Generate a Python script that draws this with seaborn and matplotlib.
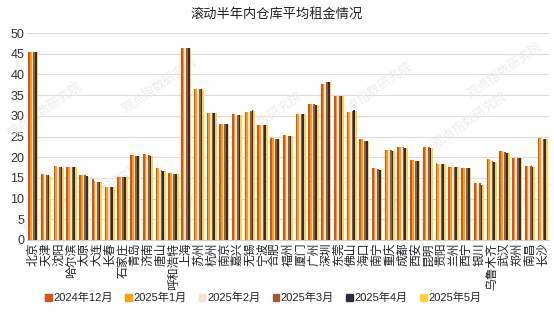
import matplotlib
matplotlib.use("Agg")
import matplotlib.pyplot as plt
import seaborn as sns
import pandas as pd

cities = ["北京", "天津", "沈阳", "哈尔滨", "太原", "大连", "长春", "石家庄", "青岛", "济南",
          "唐山", "呼和浩特", "上海", "苏州", "杭州", "南京", "嘉兴", "无锡", "宁波", "合肥",
          "福州", "厦门", "广州", "深圳", "东莞", "佛山", "海口", "南宁", "重庆", "成都",
          "西安", "昆明", "贵阳", "兰州", "西宁", "银川", "乌鲁木齐", "武汉", "郑州", "南昌", "长沙"]
months = ["2024年12月", "2025年1月", "2025年2月", "2025年3月", "2025年4月", "2025年5月"]

dec24 = [45.3, 15.9, 17.8, 17.6, 15.7, 14.7, 12.7, 15.2, 20.5, 20.7,
         17.3, 16.1, 46.4, 36.5, 30.6, 28.1, 30.5, 30.9, 27.8, 24.7,
         25.3, 30.5, 32.8, 37.7, 34.9, 30.8, 24.3, 17.5, 21.7, 22.4,
         19.3, 22.5, 18.5, 17.6, 17.4, 13.8, 19.5, 21.4, 19.7, 17.9, 24.6]
jan25 = [45.3, 15.9, 17.8, 17.6, 15.7, 14.2, 12.7, 15.1, 20.5, 20.7,
         17.3, 16.1, 46.4, 36.5, 30.6, 28.1, 30.5, 30.9, 27.8, 24.6,
         25.3, 30.5, 32.8, 37.7, 34.9, 30.8, 24.3, 17.5, 21.7, 22.4,
         19.3, 22.5, 18.4, 17.6, 17.4, 13.8, 19.5, 21.4, 19.7, 17.9, 24.6]
feb25 = [45.3, 15.8, 17.7, 17.6, 15.6, 14.1, 12.7, 15.1, 20.4, 20.8,
         17.2, 16.0, 46.4, 36.4, 30.6, 28.1, 30.3, 30.9, 27.8, 24.5,
         25.2, 30.4, 32.8, 37.8, 34.9, 30.9, 24.2, 17.4, 21.7, 22.4,
         19.3, 22.4, 18.3, 17.6, 17.4, 13.6, 19.4, 21.3, 19.7, 17.8, 24.6]
mar25 = [45.3, 15.7, 17.6, 17.6, 15.6, 14.1, 12.8, 15.1, 20.4, 20.5,
         17.0, 16.0, 46.3, 36.4, 30.6, 28.0, 30.2, 31.2, 27.8, 24.4,
         25.1, 30.4, 32.8, 38.1, 34.9, 31.2, 24.0, 17.2, 21.7, 22.4,
         19.2, 22.4, 18.3, 17.6, 17.4, 13.7, 19.2, 21.3, 19.7, 17.8, 24.5]
apr25 = [45.3, 15.6, 17.6, 17.6, 15.5, 14.1, 12.9, 15.1, 20.3, 20.4,
         16.7, 16.0, 46.3, 36.4, 30.6, 28.0, 30.2, 31.3, 27.8, 24.4,
         25.1, 30.4, 32.7, 38.2, 34.9, 31.3, 23.9, 16.9, 21.6, 22.3,
         19.2, 22.3, 18.4, 17.6, 17.4, 13.3, 18.8, 21.0, 19.7, 17.7, 24.4]
may25 = [45.3, 15.5, 17.5, 17.6, 15.3, 14.0, 12.9, 15.2, 20.3, 20.3,
         16.6, 16.0, 46.3, 36.3, 30.6, 28.0, 30.3, 31.2, 27.7, 24.4,
         25.1, 30.4, 32.7, 38.1, 34.9, 31.2, 23.9, 16.9, 21.6, 22.3,
         19.1, 22.3, 18.3, 17.6, 17.4, 13.2, 18.8, 20.9, 19.7, 17.7, 24.4]
series = [dec24, jan25, feb25, mar25, apr25, may25]
colors = ["#D9531E", "#F2A30F", "#FCE1C9", "#9C5B3A", "#2E2C40", "#FFD23F"]
yticks = [0, 5, 10, 15, 20, 25, 30, 35, 40, 45, 50]

rows = []
for m, vals in zip(months, series):
    for c, v in zip(cities, vals):
        rows.append({"city": c, "month": m, "value": v})
df = pd.DataFrame(rows)

sns.set_theme(style="white")
plt.rcParams["font.family"] = ["Liberation Sans", "Noto Sans CJK SC", "DejaVu Sans"]

fig = plt.figure(figsize=(5.54, 3.12), dpi=100)
ax = fig.add_axes([27 / 554, 72 / 312, 522 / 554, (240 - 33) / 312])

sns.barplot(data=df, x="city", y="value", hue="month", palette=colors,
            saturation=1, width=0.8, ax=ax, zorder=3, linewidth=0, legend=True)

# faint watermark (drawn beneath the bars)
wm = "观点指数研究院"
wm_pos = [(45, 110), (105, 190), (160, 85), (215, 185), (265, 120), (330, 200),
          (375, 90), (420, 190), (470, 120), (515, 205), (505, 70), (60, 205)]
for (px, py) in wm_pos:
    ax.text(px / 554, 1 - py / 312, wm, rotation=35, fontsize=9, color="#EBEBEB",
            ha="center", va="center", zorder=1, transform=fig.transFigure,
            family=["Noto Sans CJK SC", "DejaVu Sans"])

ax.set_ylim(0, 50)
ax.set_xlim(-0.5, len(cities) - 0.5)
ax.set_yticks(yticks)
ax.set_yticklabels([str(t) for t in yticks], fontsize=9, color="#333333")
ax.yaxis.grid(True, color="#DDDDDD", linewidth=0.8, zorder=0)
ax.set_axisbelow(True)
for s in ["top", "right", "left"]:
    ax.spines[s].set_visible(False)
ax.spines["bottom"].set_color("#D0D0D0")
ax.spines["bottom"].set_linewidth(0.8)
ax.tick_params(axis="both", length=0, pad=2)
ax.set_xticks(range(len(cities)))
ax.set_xticklabels(cities, rotation=90, fontsize=8.5, color="#222222",
                   family=["Noto Sans CJK SC", "DejaVu Sans"])
ax.set_xlabel("")
ax.set_ylabel("")

ax.legend_.remove()
handles = [plt.Rectangle((0, 0), 1, 1, color=c) for c in colors]
fig.legend(handles, months, loc="center", bbox_to_anchor=(0.475, 1 - 298 / 312),
           ncol=6, frameon=False, handlelength=0.6, handleheight=0.6,
           handletextpad=0.15, columnspacing=1.1,
           prop={"family": ["Liberation Sans", "Noto Sans CJK SC"], "size": 8})

fig.text(0.5, 1 - 14 / 312, "滚动半年内仓库平均租金情况", ha="center", va="center",
         fontsize=9.5, color="#222222", family=["Noto Sans CJK SC", "DejaVu Sans"])

fig.savefig("out.png", dpi=100)
